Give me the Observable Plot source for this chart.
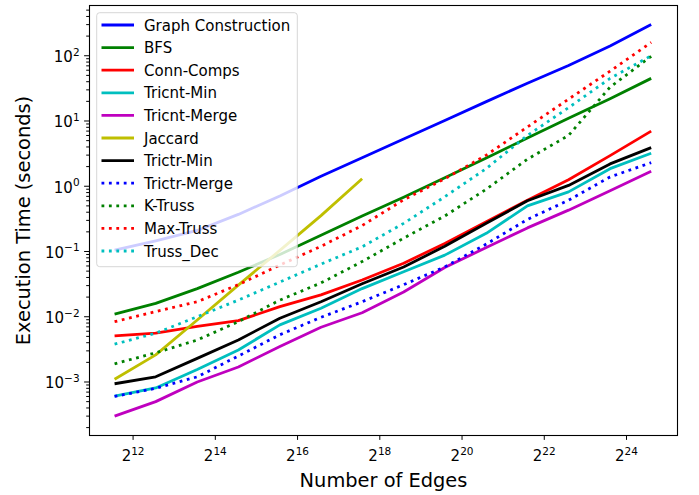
<!DOCTYPE html>
<html><head><meta charset="utf-8">
<script src="https://cdn.jsdelivr.net/npm/d3@7"></script>
<script src="https://cdn.jsdelivr.net/npm/@observablehq/plot@0.6"></script>
<style>
body{margin:0;background:#fff;}
#chart svg{font-family:"DejaVu Sans";}
</style>
</head><body><div id="chart"></div>
<script>
// x positions: log2 of number of edges
const edgeExponents = [11.55, 12.55, 13.56, 14.56, 15.57, 16.57, 17.57, 18.58, 19.58, 20.59, 21.59, 22.59, 23.6, 24.6];
// execution times (seconds)
const graphConstruction = [0.105, 0.146, 0.21, 0.37, 0.71, 1.42, 2.73, 5.3, 10.2, 19.8, 38, 71, 141, 300];
const bfs = [0.011, 0.016, 0.027, 0.048, 0.09, 0.178, 0.35, 0.68, 1.35, 2.7, 5.5, 11, 22, 45];
const connComps = [0.0051, 0.0056, 0.0071, 0.0087, 0.0143, 0.0216, 0.0365, 0.066, 0.133, 0.285, 0.61, 1.26, 2.95, 7.0];
const tricntMin = [0.00061, 0.00081, 0.00155, 0.0031, 0.0075, 0.0135, 0.027, 0.049, 0.088, 0.19, 0.5, 0.82, 1.86, 3.2];
const tricntMerge = [0.0003, 0.0005, 0.001, 0.0017, 0.0035, 0.0069, 0.0115, 0.024, 0.057, 0.115, 0.23, 0.43, 0.85, 1.7];
const jaccard = [0.0011, 0.0026, 0.0089, 0.0305, 0.104, 0.355, 1.3];
const trictrMin = [0.00094, 0.0012, 0.0023, 0.0044, 0.0095, 0.017, 0.032, 0.058, 0.12, 0.27, 0.6, 1.03, 2.2, 3.9];
const trictrMerge = [0.0006, 0.0008, 0.0012, 0.0025, 0.0053, 0.0098, 0.017, 0.031, 0.058, 0.13, 0.31, 0.61, 1.39, 2.3];
const kTruss = [0.0019, 0.0028, 0.0044, 0.0084, 0.018, 0.033, 0.07, 0.16, 0.35, 0.9, 2.6, 6, 33, 98];
const maxTruss = [0.0084, 0.012, 0.017, 0.031, 0.062, 0.12, 0.25, 0.62, 1.3, 3.0, 8.1, 21.6, 58, 160];
const trussDec = [0.0038, 0.0056, 0.01, 0.018, 0.034, 0.064, 0.118, 0.27, 0.69, 1.87, 6, 16, 45, 100];

const seriesNames = ["Graph Construction", "BFS", "Conn-Comps", "Tricnt-Min", "Tricnt-Merge", "Jaccard", "Trictr-Min", "Trictr-Merge", "K-Truss", "Max-Truss", "Truss_Dec"];
const seriesValues = [graphConstruction, bfs, connComps, tricntMin, tricntMerge, jaccard, trictrMin, trictrMerge, kTruss, maxTruss, trussDec];

const xTickExponents = [12, 14, 16, 18, 20, 22, 24];
const yTickExponents = [-3, -2, -1, 0, 1, 2];

// styles (kept separate from data)
const seriesColors = ["#0000ff", "#008000", "#ff0000", "#00bfbf", "#bf00bf", "#bfbf00", "#000000", "#0000ff", "#008000", "#ff0000", "#00bfbf"];
const seriesDotted = [false, false, false, false, false, false, false, true, true, true, true];

const LW = 2.8;
const TICK_FS = 15;
const LABEL_FS = 19.4;
const sup = s => String(s).replace("-", "\u2212");

const rows = seriesNames.map((name, k) => seriesValues[k].map((v, i) => ({series: name, edges: 2 ** edgeExponents[i], time: v})));

const yMinor = [];
for (let d = -4; d <= 2; d++) for (let m = 2; m <= 9; m++) {
  const v = m * 10 ** d;
  if (v > 10 ** -3.82 && v < 10 ** 2.77) yMinor.push(v);
}

const lineMarks = rows.map((r, k) => Plot.line(r, {
  x: "edges", y: "time",
  stroke: seriesColors[k], strokeWidth: LW,
  strokeDasharray: seriesDotted[k] ? `${LW},${(LW * 1.65).toFixed(2)}` : null,
  strokeLinecap: "butt", strokeLinejoin: "round"
}));

const chart = Plot.plot({
  width: 699, height: 495,
  marginLeft: 89, marginRight: 22, marginTop: 5, marginBottom: 60,
  style: {fontFamily: "DejaVu Sans", fontSize: TICK_FS + "px", color: "#000", background: "#fff"},
  x: {type: "log", base: 2, domain: [2 ** 10.94, 2 ** 25.24], label: null},
  y: {type: "log", domain: [10 ** -3.82, 10 ** 2.77], label: null},
  marks: [
    ...lineMarks,
    Plot.frame({stroke: "#000", strokeWidth: 1.1}),
    Plot.axisY({ticks: yMinor, tickSize: 2.8, tickFormat: () => "", label: null}),
    Plot.axisY({ticks: yTickExponents.map(e => 10 ** e), tickSize: 4.9, tickPadding: 5,
      tickFormat: d => "10^" + sup(Math.round(Math.log10(d))), label: null}),
    Plot.axisX({ticks: xTickExponents.map(e => 2 ** e), tickSize: 4.9, tickPadding: 10,
      tickFormat: d => "2^" + Math.round(Math.log2(d)), label: null}),
    Plot.text(["Execution Time (seconds)"], {frameAnchor: "left", dx: -66, rotate: -90, fontSize: LABEL_FS,
      textAnchor: "middle", lineAnchor: "middle"}),
    Plot.text(["Number of Edges"], {frameAnchor: "bottom", dy: 45.5, fontSize: LABEL_FS,
      textAnchor: "middle", lineAnchor: "middle"})
  ]
});

document.getElementById("chart").appendChild(chart);

// superscripts in tick labels
d3.select(chart).selectAll('g[aria-label="y-axis tick label"] text, g[aria-label="x-axis tick label"] text').each(function () {
  const t = d3.select(this);
  const s = t.text();
  if (!s.includes("^")) return;
  const [b, e] = s.split("^");
  t.text(null);
  t.append("tspan").text(b);
  t.append("tspan").attr("dy", "-0.62em").attr("font-size", "0.7em").text(e);
});
d3.select(chart).selectAll('g[aria-label="y-axis tick label"] text').attr("transform", function () {
  const tr = d3.select(this).attr("transform") || "";
  return tr + " translate(0,1.5)";
});

// legend (matplotlib style, upper left, framealpha 0.8)
const svg = d3.select(chart);
const lg = svg.append("g").attr("font-family", "DejaVu Sans").attr("font-size", "15px").attr("text-anchor", "start");
const lx = 96.7, ly = 12.7, lw = 200.6, rowH = 22.6;
lg.append("rect").attr("x", lx).attr("y", ly).attr("width", lw).attr("height", 254)
  .attr("rx", 3).attr("fill", "#fff").attr("fill-opacity", 0.8)
  .attr("stroke", "#cccccc").attr("stroke-opacity", 0.8).attr("stroke-width", 1);
seriesNames.forEach((name, k) => {
  const y = 25 + rowH * k;
  lg.append("line").attr("x1", 101.5).attr("x2", 134).attr("y1", y).attr("y2", y)
    .attr("stroke", seriesColors[k]).attr("stroke-width", LW)
    .attr("stroke-dasharray", seriesDotted[k] ? `${LW},${(LW * 1.65).toFixed(2)}` : null);
  lg.append("text").attr("x", 144).attr("y", y + 5.5).attr("fill", "#000").attr("text-anchor", "start").text(name);
});
</script>
</body></html>
